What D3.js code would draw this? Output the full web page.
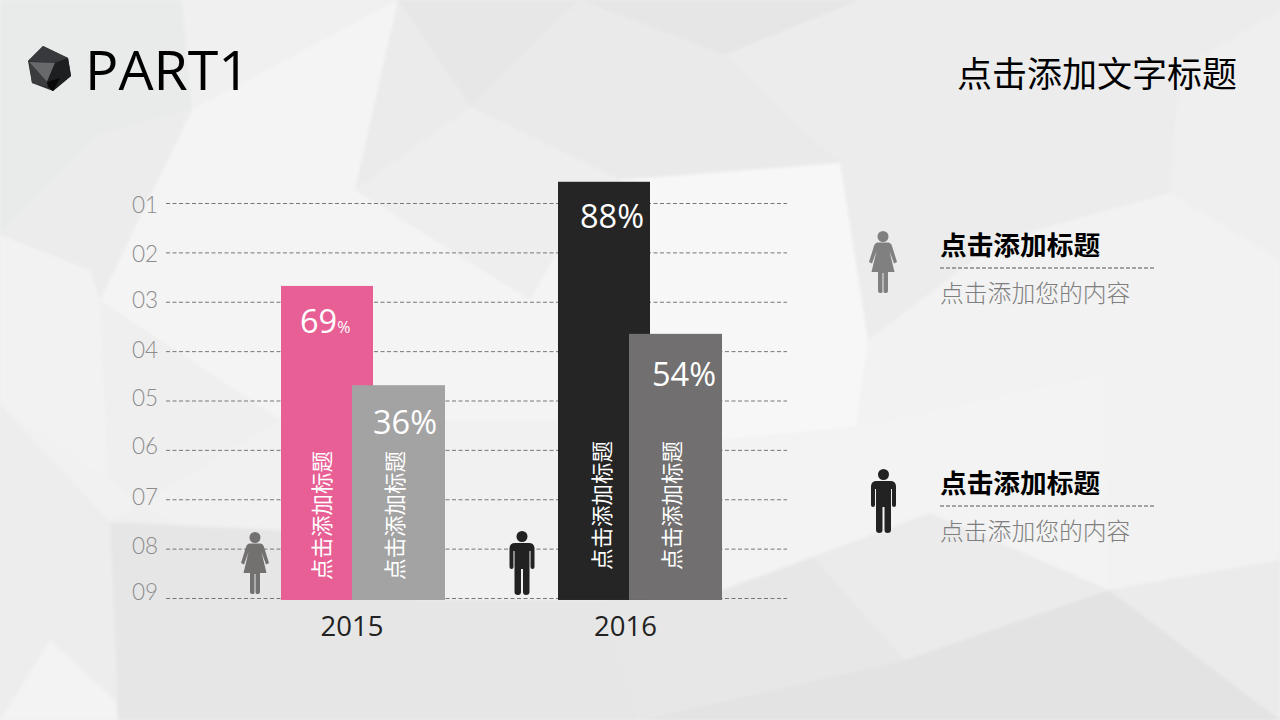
<!DOCTYPE html>
<html>
<head>
<meta charset="utf-8">
<script src="https://cdn.jsdelivr.net/npm/d3@7"></script>
<style>
  html, body { margin: 0; padding: 0; background: #efefef; }
  svg { display: block; }
  text { font-family: "Open Sans", "Noto Sans CJK SC", sans-serif; }
  .cjk { font-family: "Noto Sans CJK SC", sans-serif; }
</style>
</head>
<body>
<div id="chart"></div>
<script>
// Data
const levels = [1, 2, 3, 4, 5, 6, 7, 8, 9];
const levelLabels = ["01", "02", "03", "04", "05", "06", "07", "08", "09"];
const years = ["2015", "2016"];

const barYears = ["2015", "2015", "2016", "2016"];
const barSlots = [0, 1, 0, 1];
const barPercents = [69, 36, 88, 54];
// bars do not follow their percent linearly, so the top is kept as a level on the 01-09 axis
const barTopLevels = [2.68, 4.69, 0.57, 3.65];
const barTitles = ["点击添加标题", "点击添加标题", "点击添加标题", "点击添加标题"];

const legendTitles = ["点击添加标题", "点击添加标题"];
const legendTexts = ["点击添加您的内容", "点击添加您的内容"];

// Styles
const barColors = ["#e75f95", "#a3a3a3", "#252525", "#716f6f"];
const labelNudge = [2, 2, -1, -1, -2, -4, -2, -2, -6];
const percentDx = [19, 21, 22, 23];
const percentDy = [47, 49, 46, 52];
const titleDx = [49, 51, 52, 51];

// Background facets, decoration only
const facets = [
  ["0,0 182,0 192,110 100,135 0,235", "#e9eaea"],
  ["182,0 398,0 192,110", "#f0f0f0"],
  ["192,110 398,0 355,190 530,300 558,250 558,420 281,420 100,300 100,135", "#f4f4f4"],
  ["0,235 100,135 192,110 100,300 90,270", "#ececec"],
  ["0,235 90,270 100,300 110,522 0,405", "#f2f2f2"],
  ["398,0 471,107 355,190", "#ebebeb"],
  ["398,0 580,0 471,107", "#e7e7e7"],
  ["471,107 580,0 725,55 620,180", "#eaeaea"],
  ["355,190 471,107 620,180 558,250 530,300", "#eeeeee"],
  ["580,0 860,0 725,55", "#e6e6e6"],
  ["725,55 840,163 620,180", "#eaeaea"],
  ["860,0 1280,0 1280,245 1170,193 1000,240 868,340 840,163 725,55", "#ececec"],
  ["1180,70 1280,10 1280,245 1170,193", "#efefef"],
  ["620,180 840,163 868,340 856,427 722,440 620,420", "#f7f7f7"],
  ["1000,240 1170,193 1280,260 1280,560 1109,590 1105,373 856,427 868,340", "#f2f2f2"],
  ["722,440 856,427 1105,373 1109,590 930,513 813,557 722,590", "#f3f3f3"],
  ["558,420 722,440 722,590 558,600", "#f2f2f2"],
  ["1109,590 1280,560 1280,720", "#ebebeb"],
  ["813,557 930,513 1109,590 905,660", "#ebebeb"],
  ["640,720 905,660 1109,590 1280,720", "#e3e3e3"],
  ["722,590 813,557 905,660 640,720 600,600", "#e7e7e7"],
  ["0,405 110,522 281,420 558,420 600,600 281,600", "#f1f1f1"],
  ["110,522 281,530 420,600 600,600 640,720 118,720", "#e6e6e6"],
  ["0,405 110,522 118,720 0,720", "#ededed"],
  ["0,720 50,640 115,700 118,720", "#f3f3f3"]
];

const gemFacets = [
  ["43,46 68,58 71,76 53,91 32,83 28,61", "#2c2e30"],
  ["43,46 68,58 55,63 28,61", "#38393c"],
  ["29,62 55,63 47,82", "#67696b"],
  ["29,62 47,82 48,87 32,83", "#3a3c3e"],
  ["55,63 68,58 71,76 53,91 47,82", "#1e1f21"],
  ["47,82 60,78 53,91 48,87", "#080808"]
];

const width = 1280;
const height = 720;

const svg = d3.select("#chart").append("svg")
  .attr("width", width)
  .attr("height", height);

const blur = svg.append("defs").append("filter")
  .attr("id", "soft")
  .attr("x", "-5%").attr("y", "-5%").attr("width", "110%").attr("height", "110%");
blur.append("feGaussianBlur").attr("stdDeviation", 1.5);

svg.append("rect").attr("width", width).attr("height", height).attr("fill", "#efefef");

svg.append("g")
  .attr("filter", "url(#soft)")
  .selectAll("polygon")
  .data(facets)
  .enter()
  .append("polygon")
  .attr("points", d => d[0])
  .attr("fill", d => d[1]);

// Scales
const y = d3.scaleLinear().domain([1, 9]).range([203, 598]);
const x = d3.scalePoint().domain(years).range([352, 629]);
const slotOffset = [-71, 0];
const slotWidth = [92, 93];

// Header
svg.append("g")
  .selectAll("polygon")
  .data(gemFacets)
  .enter()
  .append("polygon")
  .attr("points", d => d[0])
  .attr("fill", d => d[1]);

svg.append("text")
  .attr("x", 85)
  .attr("y", 90)
  .attr("font-size", 55.5)
  .attr("fill", "#000")
  .text("PART1");

svg.append("text")
  .attr("class", "cjk")
  .attr("x", 1237)
  .attr("y", 87)
  .attr("text-anchor", "end")
  .attr("font-size", 35)
  .attr("fill", "#000")
  .text("点击添加文字标题");

// Y axis with dashed gridlines
const yAxis = d3.axisLeft(y)
  .tickValues(levels)
  .tickFormat((d, i) => levelLabels[i])
  .tickSizeInner(-621)
  .tickSizeOuter(0)
  .tickPadding(8);

const yAxisG = svg.append("g")
  .attr("transform", "translate(166,0)")
  .call(yAxis);

yAxisG.select(".domain").remove();
yAxisG.selectAll("line")
  .attr("stroke", "#777")
  .attr("stroke-dasharray", "4 2.5");
yAxisG.selectAll("text")
  .attr("x", -8)
  .attr("dy", (d, i) => 0.32 * 22.5 + labelNudge[i])
  .style("font-family", "Lato")
  .style("font-weight", 300)
  .style("font-size", "22.5px")
  .attr("fill", "#8c8c8c");

// X axis, years only
const xAxis = d3.axisBottom(x).tickSize(0).tickPadding(0);
const xAxisG = svg.append("g")
  .attr("transform", "translate(0,636)")
  .call(xAxis);
xAxisG.select(".domain").remove();
xAxisG.selectAll("text")
  .attr("y", 0)
  .attr("dy", 0)
  .attr("dx", (d, i) => i === 1 ? -4 : -0.5)
  .style("font-size", "27.5px")
  .attr("fill", "#222");

// Bars
const barRows = barPercents.map((value, i) => ({
  value,
  year: barYears[i],
  slot: barSlots[i],
  top: barTopLevels[i],
  title: barTitles[i],
  color: barColors[i]
}));

svg.append("g")
  .selectAll("rect")
  .data(barRows)
  .enter()
  .append("rect")
  .attr("x", d => x(d.year) + slotOffset[d.slot])
  .attr("y", d => y(d.top))
  .attr("width", d => slotWidth[d.slot])
  .attr("height", d => y(9.04) - y(d.top))
  .attr("fill", d => d.color);

// Percent labels
const percentG = svg.append("g");
barRows.forEach((d, i) => {
  const left = x(d.year) + slotOffset[d.slot];
  const t = percentG.append("text")
    .attr("x", left + percentDx[i])
    .attr("y", y(d.top) + percentDy[i])
    .attr("fill", "#fff")
    .attr("font-size", 32.5)
    .text(d.value);
  t.append("tspan")
    .attr("font-size", i === 0 ? 16 : 32.5)
    .text("%");
});

// Vertical titles inside the bars
svg.append("g")
  .selectAll("text")
  .data(barRows)
  .enter()
  .append("text")
  .attr("class", "cjk")
  .attr("transform", (d, i) => {
    const cx = x(d.year) + slotOffset[d.slot] + titleDx[i];
    const base = d.year === "2015" ? 580 : 570;
    return `translate(${cx},${base}) rotate(-90)`;
  })
  .attr("font-size", 21.5)
  .attr("fill", "#fff")
  .text(d => d.title);

// Person icons
const womanPath = "M-5,11.5 L5,11.5 Q8,11.5 9,15 L14,31 L11,32.5 L6.5,20 L11.5,41 L5,41 L5,60 Q5,62 3,62 L1.5,62 Q0.5,62 0.5,60 L0.5,42 L-0.5,42 L-0.5,60 Q-0.5,62 -1.5,62 L-3,62 Q-5,62 -5,60 L-5,41 L-11.5,41 L-6.5,20 L-11,32.5 L-14,31 L-9,15 Q-8,11.5 -5,11.5 Z";
const manPath = "M-7,12 L7,12 Q12,12 12.5,17 L12.5,36 Q12.5,38 10.5,38 Q8.5,38 8.5,36 L8.5,20 L7.5,20 L7.5,61 Q7.5,64 4,64 Q1,64 1,61 L1,38 L-1,38 L-1,61 Q-1,64 -4,64 Q-7.5,64 -7.5,61 L-7.5,20 L-8.5,20 L-8.5,36 Q-8.5,38 -10.5,38 Q-12.5,38 -12.5,36 L-12.5,17 Q-12,12 -7,12 Z";

function drawPerson(cx, top, path, color) {
  const g = svg.append("g").attr("transform", `translate(${cx},${top})`).attr("fill", color);
  g.append("circle").attr("cy", 5.5).attr("r", 5.5);
  g.append("path").attr("d", path);
}

drawPerson(255, 532, womanPath, "#737070");
drawPerson(522, 531, manPath, "#222222");
drawPerson(883, 231, womanPath, "#808080");
drawPerson(883.5, 469, manPath, "#222222");

// Legend block on the right
const legendTop = [0, 238];
legendTitles.forEach((title, i) => {
  const g = svg.append("g").attr("transform", `translate(940,${legendTop[i]})`);
  g.append("text")
    .attr("class", "cjk")
    .attr("y", 255)
    .attr("font-size", 26.7)
    .attr("font-weight", 700)
    .attr("fill", "#000")
    .text(title);
  g.append("line")
    .attr("x1", 0).attr("x2", 214)
    .attr("y1", 268).attr("y2", 268)
    .attr("stroke", "#555")
    .attr("stroke-dasharray", "4 2");
  g.append("text")
    .attr("class", "cjk")
    .attr("y", 302)
    .attr("font-size", 23.8)
    .attr("font-weight", 300)
    .attr("fill", "#7f7f7f")
    .text(legendTexts[i]);
});
</script>
</body>
</html>
